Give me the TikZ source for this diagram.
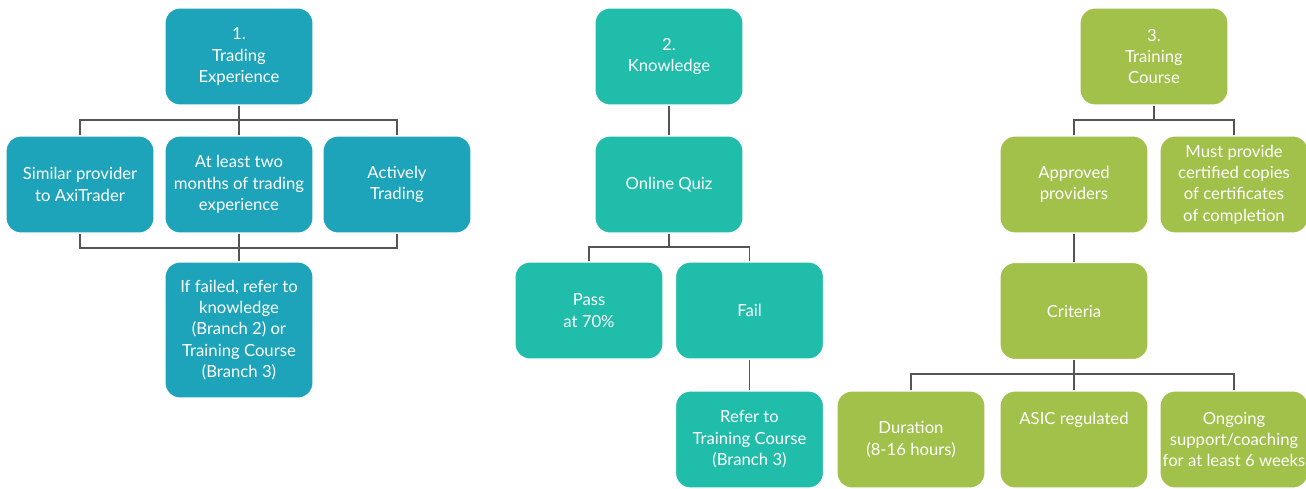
\documentclass[tikz,border=0pt]{standalone}
\usepackage{fontspec}
\setmainfont{Lato}
\usetikzlibrary{positioning}
\definecolor{tealA}{RGB}{29,164,186}
\definecolor{tealB}{RGB}{32,190,170}
\definecolor{leaf}{RGB}{161,193,74}
\definecolor{wire}{RGB}{85,85,85}
\tikzset{
  box/.style={rounded corners=0.3cm, draw=white, line width=0.6pt, text=white, align=center,
    inner xsep=1pt, minimum width=2.96cm, minimum height=1.94cm, font=\fontsize{9.5}{12.2}\selectfont},
  b1/.style={box, fill=tealA},
  b2/.style={box, fill=tealB},
  b3/.style={box, fill=leaf},
  link/.style={draw=wire, line width=1.1pt}}
\begin{document}
\begin{tikzpicture}[x=0.02cm,y=-0.02cm]
\useasboundingbox (0,0) rectangle (1306,488);
% branch 1
\node[b1] (t1) at (239,56.5) {1.\\Trading\\Experience};
\node[b1] (sim) at (80,184.5) {Similar provider\\to AxiTrader};
\node[b1] (two) at (239,184.5) {At least two\\months of trading\\experience};
\node[b1] (act) at (397,184.5) {Actively\\Trading};
\node[b1, minimum height=2.72cm] (fl1) at (239,330) {If failed, refer to\\knowledge\\(Branch 2) or\\Training Course\\(Branch 3)};
\coordinate (u1) at (239,120);\coordinate (d1) at (239,248);
\draw[link] (t1.south) -- (two.north);
\draw[link] (sim.north) |- (u1) -| (act.north);
\draw[link] (two.south) -- (fl1.north);
\draw[link] (sim.south) |- (d1) -| (act.south);
% branch 2
\node[b2] (t2) at (669,56.5) {2.\\Knowledge};
\node[b2] (quiz) at (669,184.5) {Online Quiz};
\node[b2] (pass) at (589,310.5) {Pass\\at 70\%};
\node[b2] (fail) at (749.5,310.5) {Fail};
\node[b2] (ref) at (749.5,439.5) {Refer to\\Training Course\\(Branch 3)};
\coordinate (u2) at (669,247);
\draw[link] (t2) -- (quiz);
\draw[link] (quiz.south) -- (u2);
\draw[link] (pass.north) |- (u2) -| (fail.north);
\draw[link] (fail) -- (ref);
% branch 3
\node[b3] (t3) at (1154,56.5) {3.\\Training\\Course};
\node[b3] (appr) at (1074,184.5) {Approved\\providers};
\node[b3] (cert) at (1234,184.5) {Must provide\\certified copies\\of certificates\\of completion};
\node[b3] (crit) at (1074,311) {Criteria};
\node[b3] (dur) at (911,439.5) {Duration\\(8-16 hours)};
\node[b3] (asic) at (1074,439.5) {ASIC regulated\\~\\~};
\node[b3] (ong) at (1234,439.5) {Ongoing\\support/coaching\\for at least 6 weeks};
\coordinate (u3) at (1154,120);\coordinate (d3) at (1074,374);
\draw[link] (t3.south) -- (u3);
\draw[link] (appr.north) |- (u3) -| (cert.north);
\draw[link] (appr) -- (crit);
\draw[link] (crit) -- (asic);
\draw[link] (dur.north) |- (d3) -| (ong.north);
\end{tikzpicture}
\end{document}
